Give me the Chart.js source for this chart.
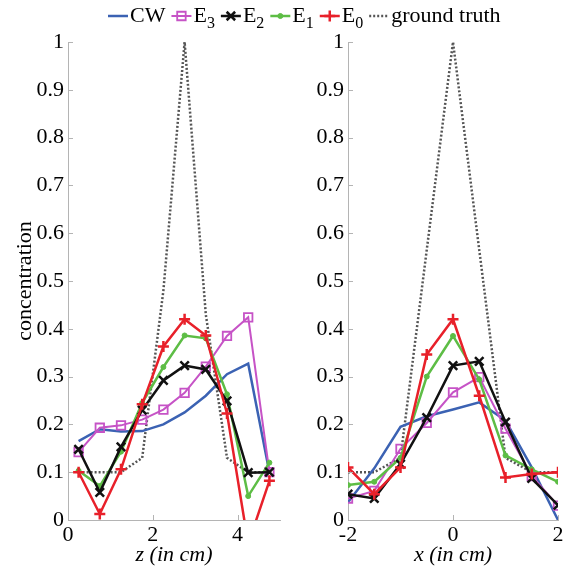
<!DOCTYPE html>
<html>
<head>
<meta charset="utf-8">
<script src="https://cdn.jsdelivr.net/npm/chart.js@4/dist/chart.umd.min.js"></script>
<style>
  html, body { margin: 0; padding: 0; background: #fff; }
  #wrap { position: relative; width: 579px; height: 571px; }
  #wrap canvas { position: absolute; left: 0; top: 0; }
</style>
</head>
<body>
<div id="wrap">
  <canvas id="leftChart" width="579" height="571"></canvas>
  <canvas id="rightChart" width="579" height="571"></canvas>
</div>
<script>
// left panel: positions along z (cm)
const zPos = [0.25, 0.75, 1.25, 1.75, 2.25, 2.75, 3.25, 3.75, 4.25, 4.75];
const zTicks = [0, 2, 4];
const leftCW = [0.165, 0.19, 0.185, 0.186, 0.2, 0.225, 0.26, 0.305, 0.327, 0.1];
const leftE3 = [0.142, 0.193, 0.198, 0.21, 0.231, 0.266, 0.321, 0.385, 0.424, 0.1];
const leftE2 = [0.148, 0.058, 0.153, 0.23, 0.292, 0.323, 0.315, 0.249, 0.099, 0.1];
const leftE1 = [0.103, 0.071, 0.143, 0.245, 0.32, 0.386, 0.38, 0.263, 0.05, 0.12];
const leftE0 = [0.1, 0.0125, 0.106, 0.242, 0.363, 0.42, 0.386, 0.223, -0.05, 0.082];
const leftGT = [0.1, 0.1, 0.1, 0.13, 0.48, 1.0, 0.43, 0.13, 0.1, 0.1];

// right panel: positions along x (cm)
const xPos = [-2, -1.5, -1, -0.5, 0, 0.5, 1, 1.5, 2];
const xTicks = [-2, 0, 2];
const rightCW = [0.037, 0.108, 0.195, 0.217, 0.231, 0.246, 0.208, 0.11, 0.0];
const rightE3 = [0.045, 0.061, 0.149, 0.203, 0.267, 0.299, 0.191, 0.092, 0.03];
const rightE2 = [0.054, 0.045, 0.117, 0.214, 0.323, 0.332, 0.205, 0.087, 0.031];
const rightE1 = [0.073, 0.08, 0.13, 0.3, 0.385, 0.294, 0.135, 0.106, 0.08];
const rightE0 = [0.11, 0.054, 0.11, 0.346, 0.42, 0.26, 0.089, 0.096, 0.1];
const rightGT = [0.1, 0.1, 0.13, 0.565, 1.0, 0.565, 0.13, 0.1, 0.1];

const yTicks = [0, 0.1, 0.2, 0.3, 0.4, 0.5, 0.6, 0.7, 0.8, 0.9, 1];
const seriesNames = ['CW', 'E3', 'E2', 'E1', 'E0', 'ground truth'];

const serif = "'Liberation Serif', 'Times New Roman', serif";
const axisColor = '#b4b4b4';

// look of each series (same order as seriesNames)
const looks = [
  { color: '#3b62b3', marker: false, width: 2.5, order: 5 },
  { color: '#c653c6', marker: 'rect', radius: 6, pbw: 1.8, fill: 'rgba(0,0,0,0)', width: 2, order: 4 },
  { color: '#111111', marker: 'crossRot', radius: 6, pbw: 2.5, width: 2.5, order: 2 },
  { color: '#5dbd45', marker: 'circle', radius: 2.5, pbw: 1, fill: '#5dbd45', width: 2.5, order: 3 },
  { color: '#e8202a', marker: 'cross', radius: 5.5, pbw: 2.5, width: 2.5, order: 1 },
  { color: '#555555', marker: false, width: 2.5, dash: [2, 2], order: 6 }
];

function buildDatasets(xs, seriesList) {
  return seriesList.map((vals, i) => {
    const lk = looks[i];
    return {
      label: seriesNames[i],
      data: xs.map((x, j) => ({ x: x, y: vals[j] })),
      borderColor: lk.color,
      backgroundColor: lk.fill || lk.color,
      borderWidth: lk.width,
      borderDash: lk.dash || [],
      pointStyle: lk.marker || 'circle',
      pointRadius: lk.marker ? lk.radius : 0,
      pointBorderWidth: lk.pbw || 0,
      pointBackgroundColor: lk.fill || 'rgba(0,0,0,0)',
      pointBorderColor: lk.color,
      tension: 0,
      order: lk.order
    };
  });
}

function buildScales(xMin, xMax, tickVals, xTitle, yTitle, yWidth) {
  const tickFont = { family: serif, size: 22 };
  return {
    x: {
      type: 'linear', min: xMin, max: xMax,
      afterBuildTicks: s => { s.ticks = tickVals.map(v => ({ value: v })); },
      afterFit: s => { s.height = 51; },
      grid: { display: false, drawTicks: false },
      border: { display: true, color: axisColor, width: 1 },
      ticks: { font: tickFont, color: '#000', padding: 2, maxRotation: 0, callback: v => String(v) },
      title: { display: true, text: xTitle, color: '#000', font: { family: serif, size: 22, style: 'italic' }, padding: { top: 0, bottom: 3 } }
    },
    y: {
      type: 'linear', min: 0, max: 1,
      afterBuildTicks: s => { s.ticks = yTicks.map(v => ({ value: v })); },
      afterFit: s => { s.width = yWidth; },
      grid: { display: false, drawTicks: false },
      border: { display: true, color: axisColor, width: 1 },
      ticks: { font: tickFont, color: '#000', padding: 4, callback: v => String(v) },
      title: { display: !!yTitle, text: yTitle, color: '#000', font: { family: serif, size: 22 }, padding: { top: 12, bottom: 0 } }
    }
  };
}

// small tick marks pointing into the plot
const inwardTicks = {
  id: 'inwardTicks',
  afterDraw(chart) {
    const { ctx, chartArea, scales } = chart;
    ctx.save();
    ctx.strokeStyle = axisColor;
    ctx.lineWidth = 1;
    ctx.beginPath();
    scales.x.ticks.forEach(t => {
      const px = Math.round(scales.x.getPixelForValue(t.value)) + 0.5;
      ctx.moveTo(px, chartArea.bottom);
      ctx.lineTo(px, chartArea.bottom - 5);
    });
    scales.y.ticks.forEach(t => {
      const py = Math.round(scales.y.getPixelForValue(t.value)) + 0.5;
      ctx.moveTo(chartArea.left, py);
      ctx.lineTo(chartArea.left + 5, py);
    });
    ctx.stroke();
    ctx.restore();
  }
};

function drawMarker(ctx, style, r, x, y) {
  ctx.beginPath();
  if (style === 'rect') {
    const s = r * Math.SQRT1_2;
    ctx.rect(x - s, y - s, 2 * s, 2 * s);
  } else if (style === 'crossRot') {
    const s = r * Math.SQRT1_2;
    ctx.moveTo(x - s, y - s); ctx.lineTo(x + s, y + s);
    ctx.moveTo(x - s, y + s); ctx.lineTo(x + s, y - s);
  } else if (style === 'cross') {
    ctx.moveTo(x - r, y); ctx.lineTo(x + r, y);
    ctx.moveTo(x, y - r); ctx.lineTo(x, y + r);
  } else if (style === 'circle') {
    ctx.arc(x, y, r, 0, Math.PI * 2);
    ctx.fill();
  }
  ctx.stroke();
}

// legend across the top of both panels
const topLegend = {
  id: 'topLegend',
  afterDraw(chart) {
    const ctx = chart.ctx;
    const y = 16;
    let x = 108;
    ctx.save();
    ctx.textBaseline = 'middle';
    chart.data.datasets.forEach((ds, i) => {
      const lk = looks[i];
      ctx.strokeStyle = lk.color;
      ctx.fillStyle = lk.color;
      ctx.lineWidth = lk.width;
      ctx.setLineDash(lk.dash || []);
      ctx.beginPath();
      ctx.moveTo(x, y);
      ctx.lineTo(x + 20, y);
      ctx.stroke();
      ctx.setLineDash([]);
      if (lk.marker) {
        ctx.lineWidth = lk.pbw;
        drawMarker(ctx, lk.marker, lk.radius, x + 10, y);
      }
      x += 22;
      ctx.fillStyle = '#000';
      const name = seriesNames[i];
      if (/^E\d$/.test(name)) {
        ctx.font = '22px ' + serif;
        ctx.fillText('E', x, y);
        x += ctx.measureText('E').width;
        ctx.font = '16px ' + serif;
        ctx.fillText(name[1], x, y + 8);
        x += ctx.measureText(name[1]).width;
      } else {
        ctx.font = '22px ' + serif;
        ctx.fillText(name, x, y);
        x += ctx.measureText(name).width;
      }
      x += 6;
    });
    ctx.restore();
  }
};

const baseOptions = (padding, scales) => ({
  responsive: false,
  animation: false,
  devicePixelRatio: 1,
  layout: { padding: padding },
  plugins: { legend: { display: false }, tooltip: { enabled: false } },
  scales: scales
});

new Chart(document.getElementById('leftChart').getContext('2d'), {
  type: 'line',
  data: { datasets: buildDatasets(zPos, [leftCW, leftE3, leftE2, leftE1, leftE0, leftGT]) },
  options: baseOptions({ left: 0, right: 299, top: 42, bottom: 0 },
    buildScales(0, 5, zTicks, 'z (in cm)', 'concentration', 68)),
  plugins: [inwardTicks, topLegend]
});

new Chart(document.getElementById('rightChart').getContext('2d'), {
  type: 'line',
  data: { datasets: buildDatasets(xPos, [rightCW, rightE3, rightE2, rightE1, rightE0, rightGT]) },
  options: baseOptions({ left: 298, right: 21, top: 42, bottom: 0 },
    buildScales(-2, 2, xTicks, 'x (in cm)', '', 50)),
  plugins: [inwardTicks]
});
</script>
</body>
</html>
